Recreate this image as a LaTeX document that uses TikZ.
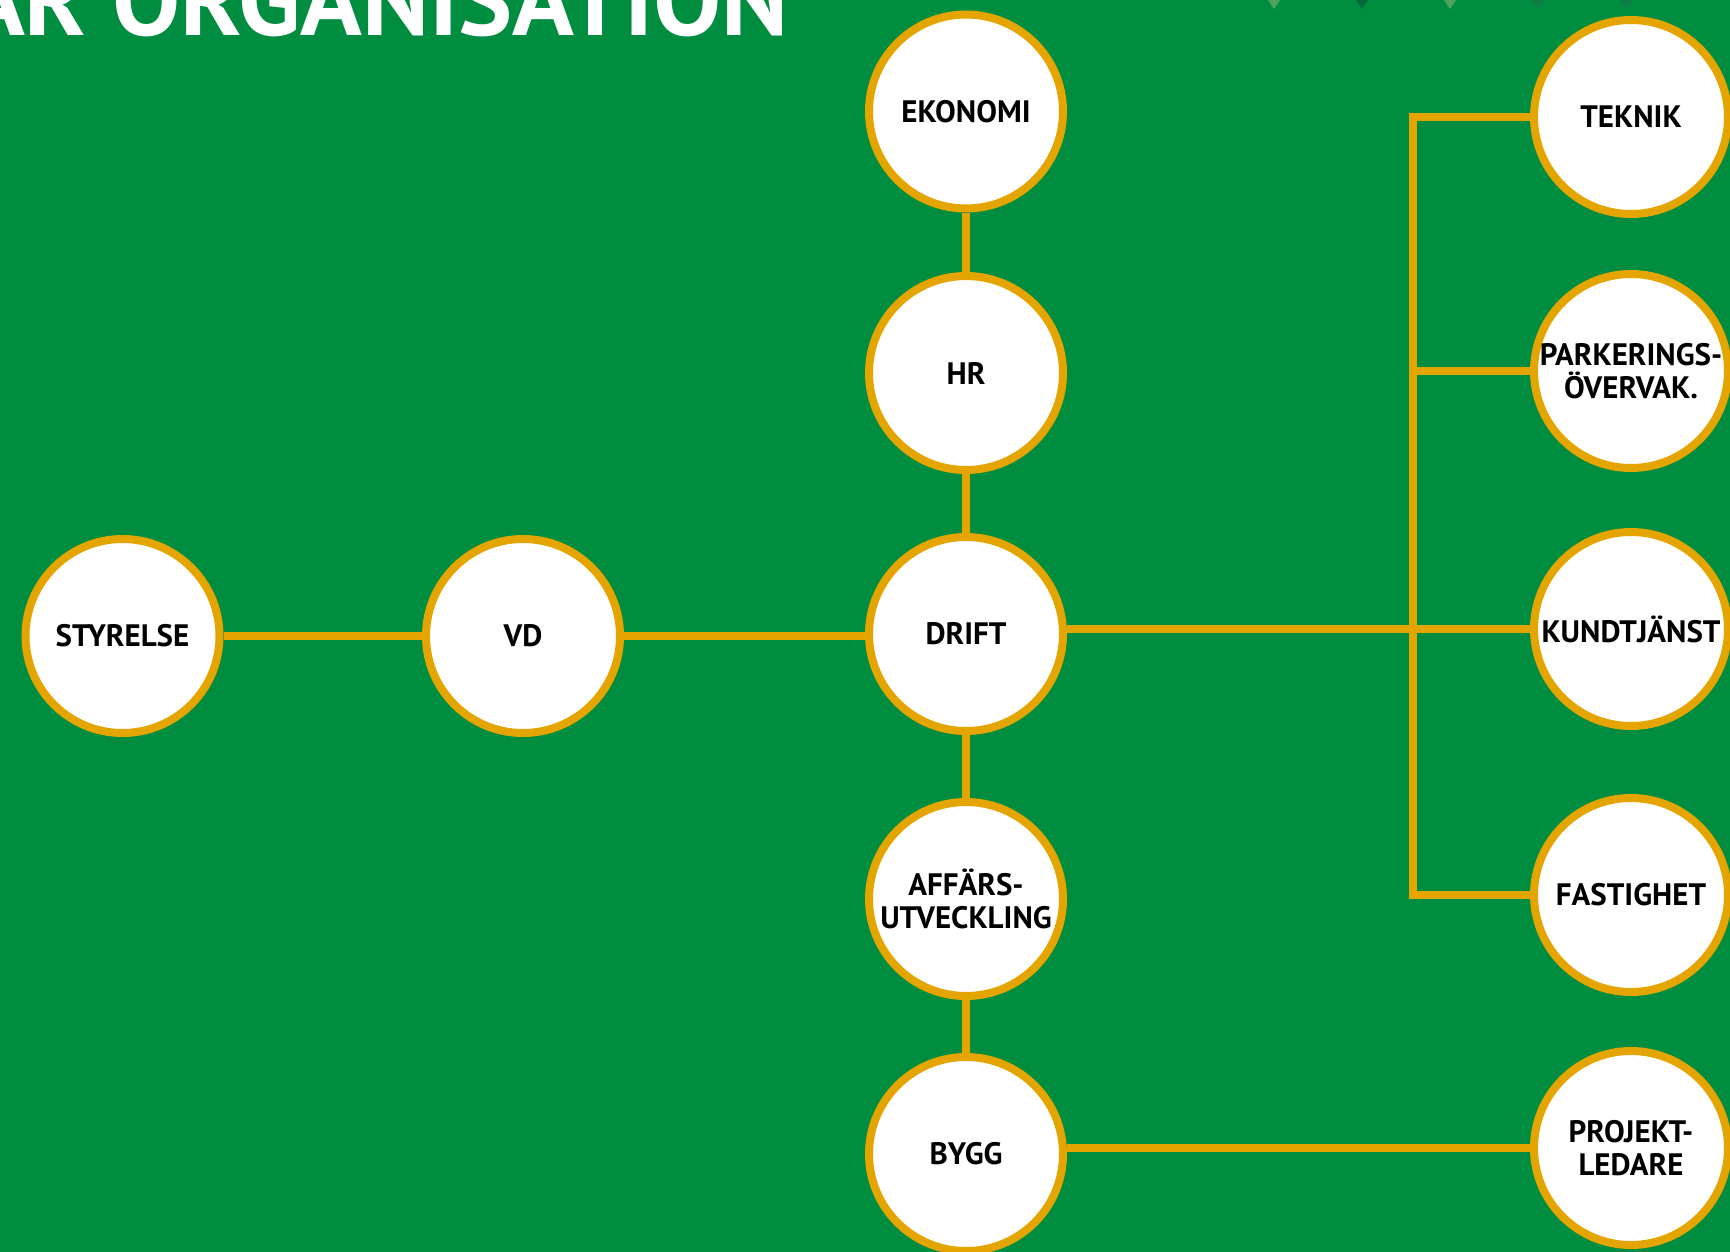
\documentclass[tikz,border=0pt]{standalone}
\usepackage{fontspec}
\setmainfont{PT Sans}
\definecolor{bggreen}{HTML}{008D40}
\definecolor{ringgold}{HTML}{E5A500}
\definecolor{tipA}{HTML}{4FA35A}
\definecolor{tipB}{HTML}{006A3C}
\definecolor{tipC}{HTML}{117D46}
\tikzset{
  unit/.style={circle,draw=ringgold,fill=white,line width=4pt,minimum size=97pt,
    inner sep=0pt,align=center,font=\fontsize{15.5}{16.5}\selectfont\bfseries},
  link/.style={draw=ringgold,line width=4pt}
}
\begin{document}
\begin{tikzpicture}[x=0.5pt,y=-0.5pt]
  \useasboundingbox (0,0) rectangle (1730,1252);
  \clip (0,0) rectangle (1730,1252);
  \fill[bggreen] (0,0) rectangle (1730,1252);
  % small marks along the top edge
  \foreach \x/\c in {1274/tipA,1362/tipB,1450/tipA,1538/tipC,1626/tipC}
    \fill[\c] (\x-6,0) -- (\x+6,0) -- (\x,9) -- cycle;
  % title
  \node[anchor=base east,inner sep=0pt,text=white,
    font=\fontsize{51}{51}\selectfont\bfseries] (title) at (789,36) {AR ORGANISATION};
  % the units
  \node[unit] (sty) at (122.5,636) {STYRELSE};
  \node[unit] (vd) at (523,636) {VD};
  \node[unit] (ekon) at (966,111.5) {EKONOMI};
  \node[unit] (hr) at (966,373) {HR};
  \node[unit] (drift) at (966,634) {DRIFT};
  \node[unit] (affars) at (966,899) {AFFÄRS-\\UTVECKLING};
  \node[unit] (bygg) at (966,1154) {BYGG};
  \node[unit] (tek) at (1631,117) {TEKNIK};
  \node[unit] (park) at (1631,371) {PARKERINGS-\\ÖVERVAK.};
  \node[unit] (kund) at (1631,629) {KUNDTJÄNST};
  \node[unit] (fast) at (1631,895) {FASTIGHET};
  \node[unit] (proj) at (1631,1148) {PROJEKT-\\LEDARE};
  \coordinate (bus) at (1413,0);
  % connectors
  \draw[link] (sty) -- (vd);
  \draw[link] (vd.east) -- (vd.east -| drift.west);
  \draw[link] (ekon) -- (hr);
  \draw[link] (hr) -- (drift);
  \draw[link] (drift) -- (affars);
  \draw[link] (affars) -- (bygg);
  \draw[link] (drift.east |- kund) -- (kund.west);
  \draw[link] (tek.west) -- (tek.west -| bus) -- (fast.west -| bus) -- (fast.west);
  \draw[link] (park.west -| bus) -- (park.west);
  \draw[link] (bygg.east |- proj) -- (proj.west);
\end{tikzpicture}
\end{document}
